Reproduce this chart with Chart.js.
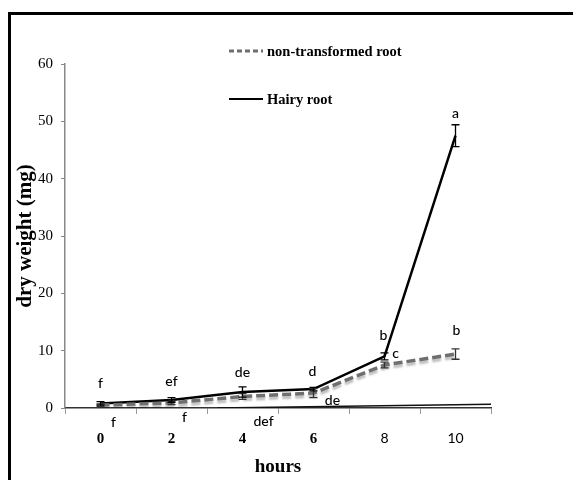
<!DOCTYPE html>
<html>
<head>
<meta charset="utf-8">
<script src="https://cdn.jsdelivr.net/npm/chart.js@4.4.0/dist/chart.umd.min.js"></script>
<style>
  html, body { margin: 0; padding: 0; background: #fff; }
</style>
</head>
<body>
<canvas id="growthChart" width="573" height="480"></canvas>
<script>
(function () {
  "use strict";

  // data
  var hours = ["0", "2", "4", "6", "8", "10"];
  var hairyRoot = [0.8, 1.4, 2.8, 3.3, 9.0, 47.5];
  var hairyErr = [0.3, 0.4, 0.9, 0.3, 0.6, 1.9];
  var nonTransformed = [0.5, 0.9, 2.0, 2.6, 7.5, 9.4];
  var nonTransformedErr = [0.2, 0.3, 0.5, 0.8, 0.5, 0.9];
  var hairyLetters = ["f", "ef", "de", "d", "b", "a"];
  var nonTransformedLetters = ["f", "f", "def", "de", "c", "b"];
  var flatLine = [{ x: 3.3, y: 0 }, { x: 11, y: 0.65 }];

  // where each letter sits relative to its point (px)
  var hairyLetterOffset = [[0, -20], [0, -18], [0, -19], [-1, -18], [-1, -21], [0, -22]];
  var nonTransformedLetterOffset = [[13, 17], [13, 15], [21, 25], [19, 7], [11, -12], [1, -24]];

  var serif = "'Liberation Serif', 'Times New Roman', serif";
  var sans = "Lato, 'Liberation Sans', sans-serif";

  var extras = {
    id: "extras",
    beforeDraw: function (chart) {
      var c = chart.ctx;
      c.save();
      c.fillStyle = "#fff";
      c.fillRect(0, 0, chart.width, chart.height);
      c.strokeStyle = "#000";
      c.lineWidth = 3;
      c.strokeRect(9.5, 13.5, chart.width + 20, chart.height + 20);
      c.restore();
    },
    beforeDatasetDraw: function (chart, args) {
      if (args.index === 0) {
        chart.ctx.save();
        chart.ctx.shadowColor = "rgba(0,0,0,0.25)";
        chart.ctx.shadowOffsetY = 3;
        chart.ctx.shadowBlur = 2;
      }
    },
    afterDatasetDraw: function (chart, args) {
      if (args.index === 0) chart.ctx.restore();
    },
    afterDatasetsDraw: function (chart) {
      var c = chart.ctx;
      var yScale = chart.scales.y;

      function errorBars(dsIndex, values, errs, color) {
        var meta = chart.getDatasetMeta(dsIndex);
        c.save();
        c.strokeStyle = color;
        c.lineWidth = 1.3;
        meta.data.forEach(function (pt, i) {
          var top = yScale.getPixelForValue(values[i] + errs[i]);
          var bot = yScale.getPixelForValue(values[i] - errs[i]);
          c.beginPath();
          c.moveTo(pt.x, top); c.lineTo(pt.x, bot);
          c.moveTo(pt.x - 4, top); c.lineTo(pt.x + 4, top);
          c.moveTo(pt.x - 4, bot); c.lineTo(pt.x + 4, bot);
          c.stroke();
        });
        c.restore();
      }
      errorBars(0, nonTransformed, nonTransformedErr, "#333");
      errorBars(1, hairyRoot, hairyErr, "#000");

      function letters(dsIndex, texts, offs) {
        var meta = chart.getDatasetMeta(dsIndex);
        c.save();
        c.fillStyle = "#000";
        c.font = "500 14px " + sans;
        c.textAlign = "center";
        c.textBaseline = "middle";
        meta.data.forEach(function (pt, i) {
          c.fillText(texts[i], pt.x + offs[i][0], pt.y + offs[i][1]);
        });
        c.restore();
      }
      letters(1, hairyLetters, hairyLetterOffset);
      letters(0, nonTransformedLetters, nonTransformedLetterOffset);

      // legend, drawn by hand to get the wide row gap
      var items = chart.data.datasets.slice(0, 2);
      var rowsY = [51, 99];
      c.save();
      c.font = "bold 14.5px " + serif;
      c.textBaseline = "middle";
      c.fillStyle = "#000";
      items.forEach(function (ds, i) {
        c.save();
        c.strokeStyle = ds.borderColor;
        c.lineWidth = i === 0 ? 3 : 2;
        c.setLineDash(i === 0 ? [5, 3] : []);
        c.beginPath();
        c.moveTo(229, rowsY[i]);
        c.lineTo(263, rowsY[i]);
        c.stroke();
        c.restore();
        c.fillText(ds.label, 267, rowsY[i] + 1);
      });
      c.restore();
    }
  };

  var canvas = document.getElementById("growthChart");
  new Chart(canvas.getContext("2d"), {
    type: "line",
    data: {
      labels: hours,
      datasets: [
        {
          label: "non-transformed root",
          data: nonTransformed,
          borderColor: "#6f6f6f",
          borderWidth: 3.5,
          borderDash: [9, 4],
          pointRadius: 0,
          tension: 0,
          fill: false
        },
        {
          label: "Hairy root",
          data: hairyRoot,
          borderColor: "#000",
          borderWidth: 2.5,
          pointRadius: 0,
          tension: 0,
          fill: false
        },
        {
          label: "",
          data: flatLine,
          xAxisID: "x2",
          borderColor: "#111",
          borderWidth: 1.5,
          pointRadius: 0,
          fill: false
        }
      ]
    },
    options: {
      responsive: false,
      animation: false,
      layout: { padding: { left: 0, top: 64, right: 82, bottom: 0 } },
      plugins: {
        legend: { display: false },
        tooltip: { enabled: false }
      },
      scales: {
        x: {
          type: "category",
          offset: true,
          grid: { offset: true, drawOnChartArea: false, tickLength: 6, color: "#9a9a9a" },
          border: { color: "#333", width: 1.5 },
          ticks: {
            color: "#000",
            padding: 16,
            font: function (ctx) {
              return ctx.index < 4
                ? { family: serif, size: 15, weight: "bold" }
                : { family: sans, size: 14 };
            }
          },
          title: {
            display: true,
            text: "hours",
            color: "#000",
            font: { family: serif, size: 19, weight: "bold" },
            padding: { top: 0, bottom: 2 }
          },
          afterFit: function (s) { s.height = 72; }
        },
        x2: { type: "linear", display: false, min: -1, max: 11 },
        y: {
          min: 0,
          max: 60,
          ticks: {
            stepSize: 10,
            color: "#000",
            padding: 8,
            font: { family: serif, size: 15 }
          },
          grid: { drawOnChartArea: false, tickLength: 4, color: "#888" },
          border: { color: "#888", width: 1.5 },
          title: {
            display: true,
            text: "dry weight (mg)",
            color: "#000",
            font: { family: serif, size: 21, weight: "bold" },
            padding: { top: 13, bottom: 0 }
          },
          afterFit: function (s) { s.width = 65; }
        }
      }
    },
    plugins: [extras]
  });
})();
</script>
</body>
</html>
